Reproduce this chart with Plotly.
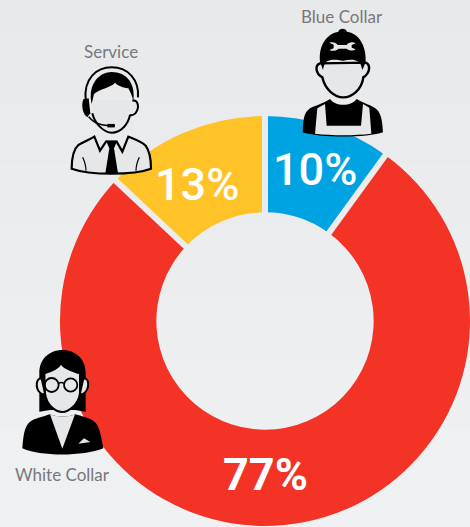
import math
import re
import plotly.graph_objects as go

WIDTH, HEIGHT = 470, 527

# Workforce split
categories = ["Blue Collar", "White Collar", "Service"]
shares = [10, 77, 13]
slice_colors = ["#00a3e2", "#f23326", "#ffc328"]
value_weights = [500, 700, 500]

INK = "#000000"
SKIN = "#e6e7e9"
LABEL_GREY = "#77787b"

# Ring geometry in pixels
CX, CY, OUTER = 265, 321, 205
HOLE = 0.53
GAP_WIDTH = 6


def wash(y):
    """Background grey at a given pixel height."""
    t = min(max(y / HEIGHT, 0), 1)
    return "rgb({:.0f},{:.0f},{:.0f})".format(232 + 8 * t, 233 + 8 * t, 234 + 8 * t)


def to_paper(path, ox=0, oy=0):
    """Convert an icon path drawn at 3x local scale into paper coordinates."""
    out, pair = [], []
    for tok in re.findall(r"[MLCQZ]|-?\d+\.?\d*", path):
        if tok.isalpha():
            out.append(tok)
        else:
            pair.append(float(tok))
            if len(pair) == 2:
                px = pair[0] / 3 + ox
                py = pair[1] / 3 + oy
                out.append(f"{px / WIDTH:.5f},{1 - py / HEIGHT:.5f}")
                pair = []
    return " ".join(out)


def ring(cx, cy, r):
    k = 0.5523 * r
    return (f"M {cx - r},{cy} C {cx - r},{cy - k} {cx - k},{cy - r} {cx},{cy - r} "
            f"C {cx + k},{cy - r} {cx + r},{cy - k} {cx + r},{cy} "
            f"C {cx + r},{cy + k} {cx + k},{cy + r} {cx},{cy + r} "
            f"C {cx - k},{cy + r} {cx - r},{cy + k} {cx - r},{cy} Z")


# Each entry: path, fill, outline colour, outline width
service_icon = [
    ("M 215,506 C 215,480 218,450 235,435 C 250,425 270,418 283,410 L 300,452 L 318,425 L 350,425 L 367,455 L 385,410 "
     "C 405,418 425,425 437,437 C 450,455 453,480 453,506 C 400,526 270,526 215,506 Z", SKIN, INK, 2.2),
    ("M 318,422 L 352,422 L 342,445 L 354,520 L 316,520 L 328,445 Z", INK, None, 0),
    ("M 248,472 C 254,485 258,497 258,512", None, INK, 1.2),
    ("M 418,472 C 412,485 408,497 408,512", None, INK, 1.2),
    ("M 278,300 C 272,345 300,396 335,398 C 370,396 392,345 392,300 Z", SKIN, None, 0),
    ("M 277,340 C 285,375 315,398 335,398 C 365,398 385,370 390,345", None, INK, 2),
    ("M 397,302 C 414,298 420,322 406,340 C 400,346 394,346 389,345", SKIN, INK, 2),
    ("M 275,312 C 262,250 300,216 335,216 C 380,216 408,250 400,305 C 398,290 390,275 385,265 "
     "C 365,262 350,255 345,248 C 330,265 300,265 282,282 Z", INK, None, 0),
    ("M 257,302 C 250,235 290,202 335,202 C 385,202 418,240 414,292", None, INK, 2),
    ("M 250,298 L 266,295 L 271,340 L 262,352 C 250,345 242,320 250,298 Z", INK, None, 0),
    ("M 266,350 C 285,372 305,378 345,377", None, INK, 1.6),
    ("M 322,377 L 344,377", None, INK, 3.5),
]

blue_collar_icon = [
    ("M 203,397 C 205,360 205,340 225,325 C 245,315 270,308 285,297 C 300,320 350,320 365,297 "
     "C 385,310 410,315 425,328 C 442,345 442,375 444,397 C 400,414 250,414 203,397 Z", INK, None, 0),
    ("M 247,325 L 270,312 L 275,377 L 378,377 L 384,312 L 403,323 L 409,401 C 360,407 290,407 240,401 Z", SKIN, None, 0),
    ("M 255,190 C 240,195 240,220 262,232 C 270,270 300,292 325,292 C 350,292 380,270 385,232 "
     "C 405,220 408,195 392,188 Z", SKIN, INK, 2.4),
    ("M 255,185 C 250,130 280,100 310,95 C 312,83 333,83 336,95 C 370,100 395,135 392,187 "
     "L 382,210 C 378,195 376,190 372,187 C 355,175 340,180 325,182 C 305,180 290,175 272,187 "
     "C 268,192 266,200 264,210 Z", INK, None, 0),
    ("M 283,128 C 295,125 305,130 308,135 L 335,135 C 340,128 352,124 362,130 L 350,135 L 350,143 L 362,148 "
     "C 352,155 340,150 335,146 L 310,146 C 305,152 295,155 283,150 L 296,145 L 296,134 Z", SKIN, None, 0),
]

white_collar_icon = [
    ("M 118,245 L 118,130 C 118,85 150,60 187,60 C 225,60 257,85 257,130 L 257,245 L 225,240 L 150,240 Z", INK, None, 0),
    ("M 125,146 C 108,142 104,175 122,190 C 128,195 132,192 135,190 Z", SKIN, INK, 2),
    ("M 250,146 C 268,142 270,175 252,190 C 246,195 242,192 240,190 Z", SKIN, INK, 2),
    ("M 133,130 C 150,125 175,115 183,100 C 195,120 225,125 240,130 L 240,190 C 235,225 205,246 187,246 "
     "C 165,246 140,225 135,190 Z", SKIN, INK, 2),
    ("M 67,355 C 70,320 72,290 90,275 C 105,265 130,260 150,253 C 170,262 205,262 225,253 "
     "C 250,260 280,265 292,285 C 302,305 305,330 310,355 C 250,380 120,380 67,355 Z", INK, None, 0),
    ("M 150,253 C 170,262 205,262 225,253 L 187,356 Z", SKIN, None, 0),
    ("M 235,341 L 252,325 L 271,336 Z", SKIN, None, 0),
    (ring(155, 165, 21), None, INK, 1.8),
    (ring(212, 165, 20), None, INK, 1.8),
    ("M 176,160 C 182,156 186,156 192,160", None, INK, 1.5),
]

shapes = []

# Soft vertical wash behind everything
BANDS = 32
for i in range(BANDS):
    shapes.append(dict(
        type="rect", xref="paper", yref="paper", layer="below",
        x0=0, x1=1, y0=1 - (i + 1) / BANDS, y1=1 - i / BANDS,
        fillcolor=wash((i + 0.5) / BANDS * HEIGHT), line_width=0,
    ))

# Spokes separating the slices, placed at the cumulative share angles
running = 0
for share in shares:
    angle = math.radians(running / sum(shares) * 360)
    running += share
    sx, sy = math.sin(angle), -math.cos(angle)
    inner = OUTER * HOLE - 3
    x0, y0 = CX + sx * inner, CY + sy * inner
    x1, y1 = CX + sx * (OUTER + 2), CY + sy * (OUTER + 2)
    shapes.append(dict(
        type="line", xref="paper", yref="paper", layer="above",
        x0=x0 / WIDTH, x1=x1 / WIDTH, y0=1 - y0 / HEIGHT, y1=1 - y1 / HEIGHT,
        line=dict(color=wash((y0 + y1) / 2), width=GAP_WIDTH),
    ))

# People icons sit over the ring
for parts, ox, oy in [(service_icon, 0, 0), (blue_collar_icon, 235, 0), (white_collar_icon, 0, 330)]:
    for path, fill, stroke, width in parts:
        shapes.append(dict(
            type="path", xref="paper", yref="paper", layer="above",
            path=to_paper(path, ox, oy),
            fillcolor=fill if fill else "rgba(0,0,0,0)",
            line=dict(color=stroke if stroke else "rgba(0,0,0,0)", width=width),
        ))

fig = go.Figure(go.Pie(
    labels=categories,
    values=shares,
    marker=dict(colors=slice_colors, line=dict(width=0)),
    hole=HOLE,
    sort=False,
    direction="clockwise",
    rotation=0,
    textinfo="none",
    showlegend=False,
    domain=dict(
        x=[(CX - OUTER) / WIDTH, (CX + OUTER) / WIDTH],
        y=[1 - (CY + OUTER) / HEIGHT, 1 - (CY - OUTER) / HEIGHT],
    ),
))


def note(text, x, y, family, size, color, weight=400):
    return dict(
        text=text, x=x / WIDTH, y=1 - y / HEIGHT, xref="paper", yref="paper",
        xanchor="center", yanchor="middle", showarrow=False,
        font=dict(family=family, size=size, color=color, weight=weight),
    )


value_spots = [(315, 169), (265, 474), (197, 184)]
name_spots = [(342, 17), (62, 474), (111, 51)]
annotations = []
for share, weight, spot in zip(shares, value_weights, value_spots):
    annotations.append(note(f"{share}%", spot[0], spot[1], "Roboto, sans-serif", 45, "#ffffff", weight))
for name, spot in zip(categories, name_spots):
    annotations.append(note(name, spot[0], spot[1], "Lato, sans-serif", 17, LABEL_GREY, 400))

fig.update_layout(
    width=WIDTH, height=HEIGHT,
    margin=dict(l=0, r=0, t=0, b=0),
    paper_bgcolor="#eceded",
    shapes=shapes,
    annotations=annotations,
)

fig.write_html("out.html")
